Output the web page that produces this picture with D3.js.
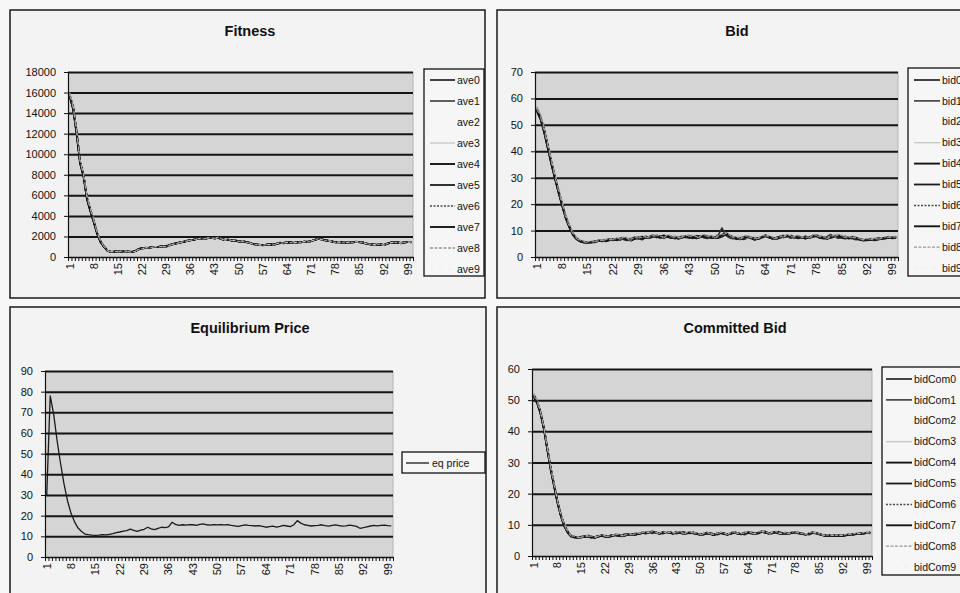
<!DOCTYPE html>
<html>
<head>
<meta charset="utf-8">
<script src="https://cdnjs.cloudflare.com/ajax/libs/d3/7.8.5/d3.min.js"></script>
<style>
  html, body { margin: 0; padding: 0; background: #f7f7f7; }
  svg { display: block; font-family: Arial, "Liberation Sans", sans-serif; }
</style>
</head>
<body>
<svg id="chart" width="960" height="593"></svg>
<script>
// categories (rounds 1..100) and the labelled ticks on the category axis
const rounds = d3.range(1, 101);
const xTickLabels = [1, 8, 15, 22, 29, 36, 43, 50, 57, 64, 71, 78, 85, 92, 99];

const fitnessTicks = [0, 2000, 4000, 6000, 8000, 10000, 12000, 14000, 16000, 18000];
const bidTicks = [0, 10, 20, 30, 40, 50, 60, 70];
const eqTicks = [0, 10, 20, 30, 40, 50, 60, 70, 80, 90];
const comTicks = [0, 10, 20, 30, 40, 50, 60];

const fitnessNames = ["ave0", "ave1", "ave2", "ave3", "ave4", "ave5", "ave6", "ave7", "ave8", "ave9"];
const bidNames = ["bid0", "bid1", "bid2", "bid3", "bid4", "bid5", "bid6", "bid7", "bid8", "bid9"];
const comNames = ["bidCom0", "bidCom1", "bidCom2", "bidCom3", "bidCom4", "bidCom5", "bidCom6", "bidCom7", "bidCom8", "bidCom9"];
const eqNames = ["eq price"];

// ---- Fitness ----
const ave0 = [15800,14600,12200,9300,8000,5800,4600,3500,2300,1500,
  1000,600,500,520,560,550,580,520,480,560,
  760,820,900,880,950,1000,980,1050,1020,1150,
  1250,1320,1400,1480,1560,1620,1700,1750,1820,1760,
  1850,1880,1800,1900,1760,1650,1700,1580,1620,1500,
  1560,1450,1380,1260,1200,1180,1150,1200,1220,1180,
  1300,1380,1350,1420,1400,1360,1450,1420,1500,1460,
  1560,1650,1780,1700,1620,1580,1500,1420,1460,1400,
  1380,1450,1420,1480,1440,1400,1300,1250,1200,1180,
  1250,1150,1300,1380,1450,1400,1350,1420,1460,1440];
const ave1 = [15600,14300,11900,9100,7800,5600,4400,3300,2200,1400,
  950,580,480,540,580,520,560,540,500,600,
  800,860,870,920,980,960,1020,1080,1060,1180,
  1280,1350,1430,1450,1590,1650,1680,1780,1850,1800,
  1820,1900,1840,1870,1720,1680,1660,1620,1580,1520,
  1520,1480,1400,1280,1230,1160,1180,1170,1250,1200,
  1280,1350,1390,1400,1430,1380,1420,1460,1470,1490,
  1530,1680,1750,1730,1650,1560,1520,1450,1430,1420,
  1400,1420,1450,1460,1460,1380,1320,1230,1220,1160,
  1220,1180,1280,1400,1420,1420,1380,1400,1480,1420];
const ave2 = [16000,14800,12400,9500,8200,6000,4800,3700,2400,1600,
  1050,620,520,500,540,570,600,500,470,540,
  740,800,920,860,930,1020,1000,1030,1000,1130,
  1230,1300,1380,1500,1540,1600,1720,1730,1800,1780,
  1870,1860,1780,1920,1780,1630,1720,1560,1640,1480,
  1580,1430,1360,1240,1180,1200,1130,1220,1200,1160,
  1320,1400,1330,1440,1380,1340,1470,1400,1520,1440,
  1580,1630,1800,1680,1600,1600,1480,1400,1480,1380,
  1360,1470,1400,1500,1420,1420,1280,1270,1180,1200,
  1270,1130,1320,1360,1470,1380,1370,1440,1440,1460];
const ave3 = [15900,14700,12300,9400,8100,5900,4700,3600,2350,1550,
  1020,610,510,530,550,560,570,530,490,550,
  770,810,890,890,940,1010,990,1040,1030,1140,
  1260,1310,1410,1470,1570,1610,1710,1740,1830,1750,
  1860,1870,1810,1890,1770,1640,1710,1570,1630,1490,
  1570,1440,1390,1250,1210,1170,1160,1190,1230,1170,
  1310,1370,1360,1410,1410,1350,1460,1410,1510,1450,
  1570,1640,1790,1690,1630,1570,1510,1410,1470,1390,
  1390,1440,1430,1470,1450,1390,1310,1240,1210,1170,
  1260,1140,1310,1370,1460,1390,1360,1410,1470,1430];
const ave4 = [15700,14500,12100,9200,7900,5700,4500,3400,2250,1450,
  980,590,490,510,570,540,590,510,490,570,
  750,830,910,870,960,990,970,1060,1010,1160,
  1240,1330,1390,1490,1550,1630,1690,1760,1810,1770,
  1840,1890,1790,1910,1750,1660,1690,1590,1610,1510,
  1550,1460,1370,1270,1190,1190,1140,1210,1210,1190,
  1290,1390,1340,1430,1390,1370,1440,1430,1490,1470,
  1550,1660,1770,1710,1610,1590,1490,1430,1450,1410,
  1370,1460,1410,1490,1430,1410,1290,1260,1190,1190,
  1240,1160,1290,1390,1440,1410,1340,1430,1450,1450];
const ave5 = [15750,14550,12150,9250,7950,5750,4550,3450,2280,1480,
  990,600,500,520,560,550,580,520,480,560,
  780,840,880,900,970,980,1000,1040,1040,1170,
  1270,1340,1420,1460,1580,1640,1690,1770,1840,1790,
  1830,1910,1820,1880,1740,1670,1680,1610,1600,1510,
  1540,1470,1390,1270,1220,1170,1170,1180,1240,1190,
  1290,1360,1380,1410,1420,1370,1430,1450,1480,1480,
  1540,1670,1760,1720,1640,1570,1510,1440,1440,1410,
  1390,1430,1440,1470,1450,1390,1310,1240,1210,1170,
  1230,1170,1290,1390,1430,1410,1370,1410,1470,1430];
const ave6 = [15850,14650,12250,9350,8050,5850,4650,3550,2320,1520,
  1010,610,510,510,550,560,590,510,490,550,
  770,810,910,870,940,1010,990,1050,1030,1140,
  1240,1330,1390,1490,1550,1610,1710,1740,1830,1770,
  1860,1870,1810,1890,1770,1640,1710,1570,1630,1490,
  1570,1440,1370,1250,1210,1190,1140,1210,1210,1170,
  1310,1370,1360,1430,1390,1350,1460,1410,1510,1450,
  1570,1640,1790,1690,1630,1570,1490,1410,1470,1390,
  1370,1460,1410,1490,1430,1410,1290,1260,1190,1190,
  1260,1140,1310,1370,1460,1390,1360,1430,1450,1450];
const ave7 = [15650,14400,12000,9150,7850,5650,4450,3350,2200,1420,
  960,590,490,530,570,530,570,530,490,580,
  790,850,880,910,960,970,1010,1070,1050,1170,
  1270,1340,1420,1460,1580,1640,1690,1770,1840,1790,
  1830,1900,1830,1880,1740,1670,1670,1610,1590,1510,
  1530,1470,1400,1280,1220,1170,1170,1180,1240,1200,
  1290,1360,1380,1410,1420,1370,1430,1450,1480,1480,
  1540,1670,1760,1720,1640,1570,1510,1440,1440,1410,
  1390,1430,1440,1470,1450,1390,1310,1240,1210,1170,
  1230,1170,1290,1390,1430,1410,1370,1410,1470,1430];
const ave8 = [15950,14750,12350,9450,8150,5950,4750,3650,2380,1580,
  1030,620,520,510,540,570,600,510,470,550,
  750,800,910,870,940,1010,990,1040,1010,1140,
  1240,1310,1390,1490,1550,1610,1710,1740,1810,1770,
  1860,1870,1790,1910,1770,1640,1710,1570,1630,1490,
  1570,1440,1370,1250,1190,1190,1140,1210,1210,1170,
  1310,1390,1340,1430,1390,1350,1460,1410,1510,1450,
  1570,1640,1790,1690,1610,1590,1490,1410,1470,1390,
  1370,1460,1410,1490,1430,1410,1290,1260,1190,1190,
  1260,1140,1310,1370,1460,1390,1360,1430,1450,1450];
const ave9 = [15750,14500,12100,9250,7950,5750,4550,3450,2280,1480,
  980,590,490,520,570,540,570,530,490,570,
  770,830,890,900,960,990,1000,1050,1040,1160,
  1260,1330,1410,1470,1570,1630,1690,1760,1830,1780,
  1840,1890,1820,1880,1750,1660,1690,1600,1610,1510,
  1550,1460,1390,1270,1210,1180,1160,1190,1230,1190,
  1290,1370,1370,1410,1410,1370,1440,1440,1480,1470,
  1550,1660,1770,1710,1630,1580,1510,1430,1450,1410,
  1390,1440,1430,1470,1450,1400,1310,1250,1210,1180,
  1240,1160,1290,1390,1440,1400,1360,1420,1460,1440];

// ---- Bid ----
const bid0 = [56,53,48,42,36,30.5,25,20,15,11.5,
  8.6,6.9,6,5.6,5.5,5.6,5.8,6,6.2,6,
  6.4,6.6,6.3,6.8,7,6.5,6.2,7.1,7.4,6.8,
  7.6,7.2,7.9,8.1,7.5,7.2,8,7.8,7.3,6.9,
  7.4,7.6,8,7.7,7.2,7.5,8.2,7.9,7.4,7.1,
  7.6,8.4,9,8.1,7.4,7,6.8,7.3,7.8,7.2,
  6.6,6.9,7.5,8.1,7.7,7.1,6.8,7.2,7.6,8,
  7.8,7.4,7.9,7.5,7,7.3,7.7,8.1,7.6,7.2,
  6.9,7.4,7.9,8.3,7.8,7.3,7,7.5,7.1,6.6,
  6.3,6.5,6.8,6.4,6.7,7,7.3,7.5,7.2,7.4];
const bid1 = [55,52,47,41,35,29.5,24,19,14.5,11,
  8.2,6.6,5.8,5.5,5.4,5.7,6,6.3,6,6.5,
  6.8,6.2,6.6,7.2,6.7,6.3,6.9,7.6,7,6.5,
  7.3,7.8,8.3,7.6,7.1,7.7,8.1,7.4,7,7.5,
  7.9,7.5,7.1,7.6,8.1,7.8,7.3,7,7.5,7.9,
  8.3,11,8.2,7.3,6.9,7.4,7,6.6,7.2,7.7,
  7.1,6.7,7.2,7.8,7.4,6.9,7.3,7.8,8.2,7.6,
  7.1,7.6,8,7.4,6.9,7.5,8.2,7.7,7.1,7.4,
  7.8,8.5,7.6,7.1,7.4,7.9,7.3,6.8,6.5,6.9,
  6.6,6.2,6.5,6.9,7.2,6.8,7.1,7.6,7.3,7.8];
const bid2 = [56.5,53.5,48.5,42.5,36.5,31,25.5,20.5,15.5,12,
  9,7.2,6.2,5.8,5.6,5.5,5.9,6.1,6.4,6.2,
  6.1,6.7,7,6.6,6.4,6.9,7.3,6.7,7.1,7.5,
  7,7.4,7.7,8,7.4,7.1,7.6,8.1,7.5,7.2,
  7.7,7.2,7.8,8.1,7.5,7.1,7.6,8,7.6,7.3,
  7.8,8.2,8.7,7.9,7.3,7.1,7.5,7.9,7.4,7,
  6.8,7.3,7.7,7.2,6.9,7.4,7.1,7.5,7.9,7.3,
  7.6,7.9,7.3,7,7.6,7.9,7.4,7.8,7.3,6.9,
  7.2,7.7,8.1,7.5,7.1,7.6,7.2,6.8,7.3,6.9,
  6.5,6.8,6.4,6.6,6.9,7.2,6.9,7.3,7.6,7.1];
const bid3 = [57,54,49,43,37,31.5,26,21,16,12.5,
  9.3,7.4,6.3,5.9,5.7,5.8,6.1,5.9,6.3,6.6,
  6.2,6.9,7.2,6.6,7.3,7.7,7.1,6.6,7.4,7.9,
  7.3,7,7.6,8.2,7.8,7.4,7.1,7.6,8.3,7.7,
  7.1,7.7,8.3,7.6,7.3,7.9,7.5,7.1,7.8,8.2,
  7.6,7.9,8.5,7.7,7.1,7.6,8.1,7.5,7,7.6,
  7.9,7.3,6.9,7.5,8.2,7.6,7.2,6.8,7.4,7.9,
  8.3,7.7,7.2,7.6,8,7.5,7,7.6,8.1,7.6,
  7.3,7.8,7.4,7.9,8.5,7.7,7.2,6.9,7.4,7,
  6.7,6.4,6.9,7.2,6.7,7.1,7.5,7.1,7.6,7.9];
const bid4 = [55.5,52.5,47.5,41.5,35.5,30,24.5,19.5,14.8,11.2,
  8.4,6.8,5.9,5.5,5.5,5.7,5.6,6.1,5.9,6.3,
  6.6,6.4,6.9,6.5,7.1,6.8,6.4,6.9,7.3,7.7,
  7.2,7.5,7.9,7.4,7.8,8.2,7.6,7.2,7.6,7.1,
  7.3,7.9,7.4,7.1,7.7,8,7.5,7.2,7.8,7.4,
  7.2,7.7,8.5,8,7.6,7.2,6.7,7.1,7.5,7.1,
  6.5,7,7.4,7.9,7.3,6.9,7.3,7.7,7.4,7.8,
  8.1,7.5,7.1,7.4,7.8,7.2,7.6,7.9,7.3,7,
  7.1,7.6,8.1,7.6,7.3,7,7.3,7.7,7.2,6.7,
  6.4,6.6,6.7,6.5,6.9,7.1,7,7.4,7.3,7.6];
const bid5 = [56,53,48.5,42.5,36,30,25,20,15.2,11.6,
  8.7,7,6.1,5.7,5.6,5.5,5.9,6.2,6.1,5.9,
  6.3,6.7,6.5,7,6.7,6.3,6.8,7.2,6.9,7.3,
  7.8,7.3,7.6,8,7.7,7.3,7.8,7.5,7,7.3,
  7.6,7.4,7.8,7.4,7,7.4,7.9,7.6,7.2,7.5,
  7.8,8.1,8.7,7.8,7.2,6.8,7.1,7.6,7.9,7.3,
  6.9,7.2,7.7,8.3,7.5,7.2,7,7.4,7.8,8.2,
  7.6,7.2,7.7,7.3,7.1,7.4,7.9,8.3,7.8,7.4,
  7,7.2,7.7,8.1,7.6,7.2,7.1,7.3,6.9,6.5,
  6.2,6.4,6.6,6.3,6.6,6.9,7.2,7.3,7.1,7.2];
const bid6 = [56.2,52.8,48,41.8,35.8,30.2,24.8,19.8,15,11.4,
  8.5,6.8,6,5.7,5.6,5.8,6,5.8,6.4,6.1,
  6.5,6.3,6.8,7,6.6,6.4,7,7.2,7.6,7,
  7.5,7.1,7.5,7.9,7.4,7,7.9,7.6,7.2,7.4,
  7.5,7.8,8.1,7.5,7.4,7.7,8,7.7,7.5,7.2,
  7.5,8,8.8,8.2,7.5,7.2,6.9,7.2,7.7,7.4,
  6.8,7.1,7.6,8,7.8,7.2,6.9,7.3,7.5,7.8,
  7.7,7.3,7.8,7.6,7.1,7.2,7.6,8,7.7,7.3,
  7,7.3,7.8,8.2,7.9,7.4,7.1,7.4,7,6.7,
  6.4,6.5,6.7,6.5,6.8,7.1,7.2,7.4,7.3,7.5];
const bid7 = [55.8,52.6,47.8,41.6,35.6,29.8,24.6,19.6,14.6,11.3,
  8.3,6.7,5.9,5.6,5.5,5.6,5.9,6.1,6.3,6.1,
  6.5,6.7,6.4,6.9,7.1,6.6,6.3,7,7.3,6.9,
  7.5,7.3,7.8,8,7.6,7.3,7.9,7.7,7.4,7,
  7.3,7.7,7.9,7.6,7.3,7.6,8.1,7.8,7.3,7.2,
  7.5,8.3,9.2,8.2,7.5,7.1,6.9,7.2,7.7,7.3,
  6.7,7,7.4,8,7.6,7.2,6.9,7.3,7.7,7.9,
  7.7,7.5,7.8,7.4,7.1,7.4,7.8,8,7.5,7.3,
  7,7.5,7.8,8.2,7.7,7.4,7.1,7.4,7.2,6.7,
  6.4,6.4,6.7,6.5,6.8,7.1,7.2,7.4,7.3,7.5];
const bid8 = [56.8,53.8,49,43,37,31.2,25.8,20.8,15.8,12.2,
  9.1,7.3,6.4,6,5.8,6,6.2,6,6.5,6.8,
  6.6,7,6.8,7.3,7.5,7,6.8,7.4,7.8,7.3,
  7.9,7.6,8.2,8.5,7.9,7.5,8.3,8.1,7.7,7.3,
  7.8,8,8.4,8.1,7.7,7.9,8.5,8.2,7.8,7.5,
  8,8.7,9.3,8.4,7.8,7.4,7.2,7.6,8.1,7.6,
  7,7.3,7.9,8.4,8,7.5,7.2,7.6,8,8.3,
  8.1,7.8,8.2,7.8,7.4,7.7,8.1,8.4,8,7.6,
  7.3,7.8,8.2,8.6,8.1,7.7,7.4,7.8,7.4,7,
  6.7,6.9,7.1,6.8,7,7.3,7.6,7.8,7.5,7.7];
const bid9 = [55.9,52.9,47.9,41.9,35.9,30.1,24.9,19.9,14.9,11.4,
  8.5,6.8,6,5.6,5.5,5.6,5.8,6,6.2,6.1,
  6.4,6.6,6.4,6.8,7,6.6,6.3,7,7.3,6.9,
  7.5,7.2,7.8,8,7.5,7.2,7.9,7.7,7.3,7,
  7.4,7.6,7.9,7.6,7.3,7.5,8.1,7.8,7.4,7.2,
  7.6,8.2,8.9,8,7.4,7,6.8,7.3,7.7,7.2,
  6.7,7,7.5,8,7.6,7.1,6.9,7.3,7.6,7.9,
  7.7,7.4,7.8,7.5,7,7.3,7.7,8,7.6,7.2,
  7,7.4,7.8,8.2,7.8,7.3,7,7.4,7.1,6.7,
  6.4,6.5,6.7,6.4,6.7,7,7.2,7.4,7.2,7.4];

// ---- Equilibrium price ----
const eqPrice = [30,78,69,56,45,35,27,21,17,14,
  12.3,11.1,10.8,10.6,10.5,10.6,10.8,10.7,11,11.3,
  11.8,12.1,12.5,12.8,13.5,12.9,12.4,13,13.4,14.4,
  13.6,13.2,13.8,14.4,14.2,14.6,16.8,15.8,15.3,15.6,
  15.4,15.7,15.6,15.3,15.8,16,15.6,15.4,15.7,15.5,
  15.6,15.5,15.7,15.3,15.1,14.8,15.2,15.5,15.3,15.2,
  15,15.2,14.8,14.4,14.7,14.9,14.4,14.8,15.3,15,
  14.7,15.6,17.6,16.4,15.6,15.3,15,15.2,15.3,15.6,
  15.2,14.9,15.3,15.5,15.2,14.9,15.1,15.4,15.2,14.8,
  13.9,14.2,14.6,15,15.3,15.1,15.3,15.4,15.2,15.1];

// ---- Committed bid ----
const bidCom0 = [51.5,49.4,46,41,34.4,28,22.7,17.3,13,9.8,
  7.7,6.4,6.1,5.9,6,6.2,6.4,6.1,5.9,6.3,
  6.6,6.3,6.1,6.5,6.8,6.6,6.4,6.7,7,6.8,
  6.9,7.2,7.5,7.3,7.6,7.9,7.4,7.2,7.6,7.3,
  7.5,7.2,7.7,7.5,7.1,7.3,7.6,7.4,7,6.8,
  7.1,7.4,7,6.7,7.2,7.5,7.1,6.8,7.3,7.6,
  7.2,6.9,7.4,7.7,7.3,7,7.5,7.9,7.6,7.2,
  7.4,7.8,7.3,7,7.4,7.1,7.5,7.8,7.3,7,
  6.9,7.2,7.6,7.3,6.9,6.6,6.4,6.7,6.5,6.4,
  6.6,6.5,6.8,7,6.9,7.2,7.1,7.3,7.5,7.4];
const bidCom1 = [51,49,45.5,40.5,34,27.5,22.2,17,12.6,9.5,
  7.4,6.2,5.9,5.8,6.1,6.4,6.1,5.8,6.2,6.5,
  6.4,6.1,6.4,6.8,6.6,6.3,6.8,7.1,6.7,7,
  7.3,7,7.4,7.7,7.5,7.2,7.6,7.4,7.1,7.5,
  7.7,7.4,7.1,7.5,7.8,7.4,7.2,7.6,7.3,6.9,
  6.8,7.2,7.5,7.1,6.8,7.2,7.4,7,7.5,7.8,
  7.4,7.1,6.8,7.3,7.6,7.4,7.1,7.6,8,7.5,
  7.2,7.5,7.9,7.5,7.1,7.3,7.6,7.4,7.1,7.3,
  7.1,6.8,7.3,7.5,7.1,6.8,6.5,6.4,6.7,6.5,
  6.4,6.7,6.6,6.9,7.1,7,7.3,7.2,7.4,7.6];
const bidCom2 = [52,49.8,46.5,41.5,35,28.5,23.2,17.8,13.4,10.2,
  8,6.6,6.2,6,5.9,6.1,6.5,6.3,6,6.2,
  6.7,6.5,6.2,6.4,6.9,6.8,6.5,6.6,7.2,6.9,
  7.1,7.3,7.7,7.4,7.5,8,7.6,7.3,7.5,7.2,
  7.4,7.3,7.8,7.6,7.2,7.2,7.7,7.5,7.1,6.9,
  7.2,7.5,7.2,6.9,7.1,7.6,7.3,6.9,7.2,7.5,
  7.3,7,7.3,7.8,7.4,7.1,7.4,7.8,7.7,7.3,
  7.5,7.7,7.4,7.1,7.3,7.2,7.6,7.7,7.4,7.1,
  7,7.3,7.5,7.2,7,6.7,6.5,6.6,6.6,6.5,
  6.5,6.6,6.9,7,7,7.1,7.2,7.4,7.4,7.5];
const bidCom3 = [52.3,50.2,47,42,35.5,29,23.6,18.2,13.8,10.5,
  8.3,6.9,6.4,6.1,6.2,6,6.3,6.5,6.2,6,
  6.5,6.8,6.4,6.3,6.7,7,6.7,6.5,6.9,7.2,
  7,7.4,7.3,7.6,7.8,7.6,7.3,7.5,7.8,7.4,
  7.2,7.6,7.5,7.3,7.4,7.6,7.5,7.2,7.3,7.1,
  6.9,7.3,7.3,7,7.3,7.4,7.2,7.1,7.4,7.4,
  7.1,7.2,7.5,7.5,7.2,7.3,7.6,7.6,7.4,7.4,
  7.3,7.6,7.5,7.2,7.2,7.4,7.4,7.6,7.5,7.2,
  7.2,7.1,7.4,7.4,7.1,6.9,6.6,6.8,6.7,6.6,
  6.7,6.6,6.7,6.9,7.1,7,7.3,7.3,7.3,7.5];
const bidCom4 = [51.2,49.1,45.8,40.8,34.2,27.8,22.4,17.1,12.8,9.6,
  7.5,6.3,6,6,6.2,6.3,6.2,6,6,6.4,
  6.5,6.2,6.2,6.6,6.7,6.5,6.5,6.8,6.9,6.9,
  7,7.1,7.6,7.2,7.7,7.8,7.5,7.3,7.5,7.4,
  7.6,7.3,7.6,7.4,7.2,7.2,7.5,7.5,7.1,6.9,
  7,7.3,7.1,6.8,7.1,7.4,7.2,6.9,7.2,7.5,
  7.3,7,7.3,7.6,7.4,7.1,7.4,7.8,7.5,7.3,
  7.3,7.7,7.4,7.1,7.3,7.2,7.4,7.7,7.4,7.1,
  7,7.1,7.5,7.4,7,6.7,6.5,6.6,6.6,6.5,
  6.5,6.6,6.7,6.9,7,7.1,7.2,7.2,7.4,7.5];
const bidCom5 = [51.7,49.6,46.2,41.2,34.6,28.2,22.9,17.5,13.1,9.9,
  7.8,6.5,6.2,6,5.9,6.3,6.5,6.2,6,6.2,
  6.7,6.4,6.2,6.4,6.9,6.7,6.3,6.6,7.1,6.9,
  6.8,7.3,7.4,7.4,7.5,7.8,7.5,7.1,7.7,7.4,
  7.4,7.1,7.6,7.6,7.2,7.4,7.5,7.3,7.1,6.9,
  7.2,7.3,7.1,6.8,7.3,7.4,7,6.9,7.2,7.5,
  7.1,7,7.5,7.6,7.2,7.1,7.4,7.8,7.5,7.3,
  7.5,7.7,7.2,7.1,7.5,7.2,7.4,7.7,7.4,7.1,
  6.8,7.3,7.5,7.2,7,6.7,6.5,6.6,6.4,6.5,
  6.7,6.4,6.7,7.1,6.8,7.1,7.2,7.2,7.4,7.3];
const bidCom6 = [51.4,49.3,45.9,40.9,34.3,27.9,22.6,17.2,12.9,9.7,
  7.6,6.3,6,5.8,6,6.1,6.3,6.2,5.8,6.2,
  6.5,6.4,6,6.4,6.7,6.7,6.3,6.6,6.9,6.9,
  7,7.1,7.4,7.4,7.5,7.8,7.5,7.1,7.5,7.4,
  7.4,7.3,7.6,7.4,7.2,7.2,7.5,7.5,7.1,6.9,
  7,7.5,7.1,6.8,7.1,7.4,7.2,6.9,7.4,7.5,
  7.1,7,7.3,7.6,7.4,7.1,7.4,7.8,7.5,7.1,
  7.5,7.7,7.4,7.1,7.3,7,7.6,7.7,7.2,7.1,
  7,7.1,7.5,7.4,7,6.7,6.5,6.6,6.6,6.5,
  6.5,6.6,6.7,6.9,7,7.1,7.2,7.4,7.4,7.3];
const bidCom7 = [51.6,49.5,46.1,41.1,34.5,28.1,22.8,17.4,13.1,9.9,
  7.8,6.5,6,6,6.1,6.1,6.5,6.2,5.8,6.2,
  6.5,6.4,6.2,6.4,6.7,6.7,6.5,6.6,7.1,6.9,
  7,7.1,7.4,7.4,7.7,7.8,7.5,7.1,7.5,7.4,
  7.6,7.3,7.6,7.4,7.2,7.4,7.5,7.3,7.1,6.9,
  7,7.5,7.1,6.8,7.3,7.4,7.2,6.9,7.2,7.5,
  7.3,7,7.3,7.6,7.4,7.1,7.4,7.8,7.7,7.3,
  7.3,7.7,7.4,7.1,7.3,7.2,7.4,7.7,7.4,7.1,
  7,7.1,7.5,7.4,7,6.7,6.5,6.6,6.6,6.5,
  6.5,6.6,6.7,6.9,7,7.1,7.2,7.4,7.4,7.5];
const bidCom8 = [52.1,50,46.6,41.6,35.1,28.7,23.4,18,13.6,10.3,
  8.1,6.7,6.3,6.1,6.1,6.3,6.6,6.4,6.1,6.4,
  6.8,6.6,6.3,6.6,7,6.9,6.6,6.8,7.2,7,
  7.1,7.4,7.7,7.5,7.8,8.1,7.6,7.4,7.8,7.5,
  7.7,7.4,7.9,7.7,7.3,7.5,7.8,7.6,7.2,7,
  7.3,7.6,7.2,6.9,7.4,7.7,7.3,7,7.5,7.8,
  7.4,7.1,7.6,7.9,7.5,7.2,7.7,8.1,7.8,7.4,
  7.6,8,7.5,7.2,7.6,7.3,7.7,8,7.5,7.2,
  7.1,7.4,7.8,7.5,7.1,6.8,6.6,6.9,6.7,6.6,
  6.8,6.7,7,7.2,7.1,7.4,7.3,7.5,7.7,7.6];
const bidCom9 = [51.5,49.4,46.1,41.1,34.5,28.1,22.7,17.3,13,9.8,
  7.7,6.4,6.1,5.9,6,6.2,6.4,6.1,5.9,6.3,
  6.5,6.3,6.2,6.5,6.8,6.6,6.4,6.7,7,6.8,
  6.9,7.2,7.5,7.3,7.6,7.8,7.4,7.2,7.6,7.3,
  7.5,7.2,7.6,7.5,7.1,7.3,7.6,7.4,7.1,6.8,
  7.1,7.4,7.1,6.8,7.2,7.5,7.1,6.9,7.3,7.5,
  7.2,7,7.4,7.6,7.3,7.1,7.5,7.8,7.6,7.2,
  7.4,7.7,7.3,7.1,7.4,7.1,7.5,7.7,7.3,7.1,
  7,7.2,7.5,7.3,7,6.7,6.5,6.7,6.6,6.5,
  6.6,6.6,6.8,7,6.9,7.1,7.2,7.3,7.4,7.4];

// grey shades the scanned series came out as (Excel defaults printed in b/w)
const seriesColors = ["#161616", "#2e2e2e", "#f4f4f4", "#c2c2c2", "#141414", "#1c1c1c", "#4a4a4a", "#151515", "#969696", "#ebebeb"];
const seriesWidths = [1.6, 1.5, 0.6, 1.2, 1.9, 1.8, 1.5, 1.9, 1.3, 0.6];
const seriesDash = [null, null, "3,4", null, null, null, "2,1.5", null, "3,1.5", "4,5"];

const svg = d3.select("#chart");

const drawPanel = (p) => {
  const g = svg.append("g");

  g.append("rect")
    .attr("x", p.box[0]).attr("y", p.box[1])
    .attr("width", p.box[2]).attr("height", p.box[3])
    .attr("fill", "#f3f3f3").attr("stroke", "#1a1a1a").attr("stroke-width", 1.5);

  g.append("text")
    .attr("x", p.titleX).attr("y", p.titleY)
    .attr("text-anchor", "middle")
    .attr("font-size", 14.5).attr("font-weight", "bold").attr("fill", "#111")
    .text(p.title);

  const x = d3.scaleBand().domain(rounds).range([p.x0, p.x1]);
  const xEdge = d3.scaleLinear().domain([0, rounds.length]).range([p.x0, p.x1]);
  const y = d3.scaleLinear().domain([0, d3.max(p.ticks)]).range([p.yBot, p.yTop]);
  const w = p.x1 - p.x0;

  g.append("rect")
    .attr("x", p.x0).attr("y", p.yTop)
    .attr("width", w).attr("height", p.yBot - p.yTop)
    .attr("fill", "#d5d5d5");
  g.append("line")
    .attr("x1", p.x1).attr("x2", p.x1).attr("y1", p.yTop).attr("y2", p.yBot)
    .attr("stroke", "#b5b5b5");

  // gridlines
  let grid = g.append("g")
    .attr("transform", `translate(${p.x0},0)`)
    .call(d3.axisLeft(y).tickValues(p.ticks.filter(v => v > 0)).tickSize(-w).tickFormat(""));
  grid.select(".domain").remove();
  grid.selectAll("line").attr("stroke", "#141414").attr("stroke-width", 2);

  // series
  const line = d3.line()
    .x((d, i) => x(rounds[i]) + x.bandwidth() / 2)
    .y(d => y(d));
  p.series.forEach((s, k) => {
    g.append("path")
      .datum(s.slice(0, rounds.length))
      .attr("fill", "none")
      .attr("stroke", p.colors[k])
      .attr("stroke-width", p.widths[k])
      .attr("stroke-dasharray", p.dash ? p.dash[k] : null)
      .attr("stroke-linejoin", "round")
      .attr("d", line);
  });

  // y axis
  let yAxis = g.append("g")
    .attr("transform", `translate(${p.x0},0)`)
    .call(d3.axisLeft(y).tickValues(p.ticks).tickSize(4).tickSizeOuter(0).tickPadding(8).tickFormat(d3.format("d")));
  yAxis.select(".domain").attr("stroke", "#111").attr("stroke-width", 1.2);
  yAxis.selectAll("line").attr("stroke", "#111");
  yAxis.selectAll("text").attr("font-size", 11).attr("fill", "#111").attr("font-family", null);

  // x axis: a tick at every category edge
  let xAxis = g.append("g")
    .attr("transform", `translate(0,${p.yBot})`)
    .call(d3.axisBottom(xEdge).tickValues(d3.range(0, rounds.length + 1)).tickSize(4).tickSizeOuter(0).tickFormat(""));
  xAxis.select(".domain").attr("stroke", "#111").attr("stroke-width", 1.5);
  xAxis.selectAll("line").attr("stroke", "#111");

  g.append("g").selectAll("text")
    .data(xTickLabels)
    .join("text")
    .attr("transform", d => `translate(${x(d) + x.bandwidth() / 2},${p.yBot + 6}) rotate(-90)`)
    .attr("dy", "0.35em")
    .attr("text-anchor", "end")
    .attr("font-size", 11).attr("fill", "#111")
    .text(d => d);

  // legend
  const lg = p.legend;
  g.append("rect")
    .attr("x", lg.x).attr("y", lg.y).attr("width", lg.w).attr("height", lg.h)
    .attr("fill", "#f6f6f6").attr("stroke", "#111").attr("stroke-width", 1.3);
  p.names.forEach((n, k) => {
    let ly = lg.y0 + k * lg.dy;
    g.append("line")
      .attr("x1", lg.lx0).attr("x2", lg.lx1).attr("y1", ly).attr("y2", ly)
      .attr("stroke", p.colors[k]).attr("stroke-width", p.widths[k])
      .attr("stroke-dasharray", p.dash ? p.dash[k] : null);
    g.append("text")
      .attr("x", lg.tx).attr("y", ly).attr("dy", "0.35em")
      .attr("font-size", 10.5).attr("fill", "#111")
      .text(n);
  });
};

drawPanel({
  box: [10, 10, 475, 288], title: "Fitness", titleX: 250, titleY: 36,
  x0: 68, x1: 413, yTop: 72, yBot: 257, ticks: fitnessTicks,
  series: [ave0, ave1, ave2, ave3, ave4, ave5, ave6, ave7, ave8, ave9],
  names: fitnessNames, colors: seriesColors, widths: seriesWidths, dash: seriesDash,
  legend: {x: 424, y: 69, w: 60, h: 207, y0: 80, dy: 21, lx0: 430, lx1: 455, tx: 457}
});

drawPanel({
  box: [497, 10, 480, 288], title: "Bid", titleX: 737, titleY: 36,
  x0: 535, x1: 898, yTop: 72, yBot: 257, ticks: bidTicks,
  series: [bid0, bid1, bid2, bid3, bid4, bid5, bid6, bid7, bid8, bid9],
  names: bidNames, colors: seriesColors, widths: seriesWidths, dash: seriesDash,
  legend: {x: 908, y: 68, w: 70, h: 208, y0: 80, dy: 20.9, lx0: 914, lx1: 940, tx: 942}
});

drawPanel({
  box: [10, 307, 476, 300], title: "Equilibrium Price", titleX: 250, titleY: 333,
  x0: 45, x1: 393, yTop: 371, yBot: 557, ticks: eqTicks,
  series: [eqPrice], names: eqNames, colors: ["#1a1a1a"], widths: [1.3],
  legend: {x: 402, y: 452, w: 83, h: 21, y0: 463, dy: 0, lx0: 406, lx1: 429, tx: 432}
});

drawPanel({
  box: [497, 307, 480, 300], title: "Committed Bid", titleX: 735, titleY: 333,
  x0: 532, x1: 872, yTop: 369, yBot: 556, ticks: comTicks,
  series: [bidCom0, bidCom1, bidCom2, bidCom3, bidCom4, bidCom5, bidCom6, bidCom7, bidCom8, bidCom9],
  names: comNames, colors: seriesColors, widths: seriesWidths, dash: seriesDash,
  legend: {x: 882, y: 367, w: 90, h: 208, y0: 379, dy: 20.9, lx0: 886, lx1: 912, tx: 914}
});
</script>
</body>
</html>
